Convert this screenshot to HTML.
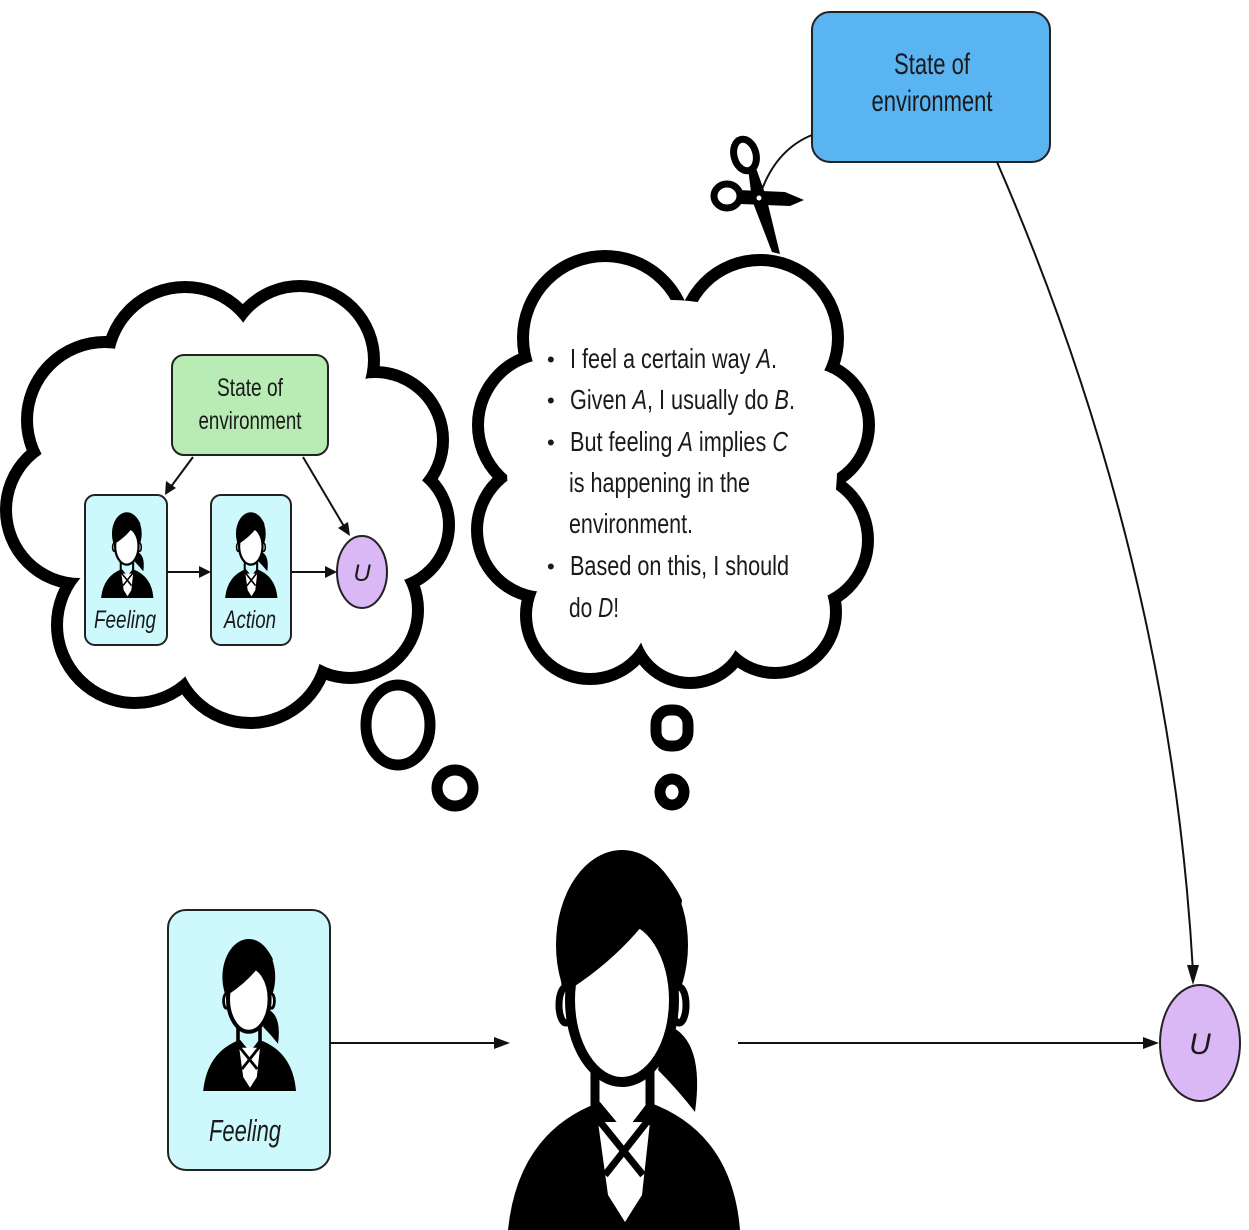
<!DOCTYPE html>
<html><head><meta charset="utf-8"><style>
html,body{margin:0;padding:0;background:#fff;width:1249px;height:1230px;overflow:hidden}
svg{display:block}
text{font-family:"Liberation Sans",Arial,sans-serif;fill:#1a1a1a}
</style></head><body>
<svg width="1249" height="1230" viewBox="0 0 1249 1230" xmlns="http://www.w3.org/2000/svg">
<defs>
<symbol id="p" viewBox="0 0 250 390" overflow="visible">
  <path d="M8 390 Q18 292 100 262 L125 292 L148 262 Q232 292 240 390 Z" fill="#000"/>
  <path d="M98 282 L150 282 L142 355 L125 382 L108 355 Z" fill="#fff"/>
  <path d="M97 278 L143 335 M150 278 L105 335" stroke="#000" stroke-width="7"/>
  <path d="M95 225 L95 285 M150 225 L150 285" stroke="#000" stroke-width="9"/>
  <path d="M168 185 Q205 200 195 272 Q178 250 158 230 Z" fill="#000"/>
  <ellipse cx="122" cy="105" rx="66" ry="95" fill="#000"/>
  <ellipse cx="66" cy="165" rx="7" ry="18" fill="#fff" stroke="#000" stroke-width="7"/>
  <ellipse cx="179" cy="165" rx="7" ry="18" fill="#fff" stroke="#000" stroke-width="7"/>
  <ellipse cx="122" cy="160" rx="52" ry="82" fill="#fff" stroke="#000" stroke-width="10"/>
  <path d="M62 150 L72 148 Q118 118 150 76 L176 110 L182 60 Q160 14 122 12 Q62 20 58 110 Z" fill="#000"/>
</symbol>
</defs>

<!-- left cloud -->
<g stroke="#000" stroke-width="24" fill="#000">
  <circle cx="185" cy="365" r="72"/><circle cx="300" cy="360" r="68"/>
  <circle cx="105" cy="420" r="72"/><circle cx="375" cy="440" r="62"/>
  <circle cx="80" cy="510" r="68"/><circle cx="385" cy="525" r="58"/>
  <circle cx="135" cy="625" r="72"/><circle cx="250" cy="645" r="72"/><circle cx="350" cy="610" r="62"/>
</g>
<g fill="#fff">
  <circle cx="185" cy="365" r="72"/><circle cx="300" cy="360" r="68"/>
  <circle cx="105" cy="420" r="72"/><circle cx="375" cy="440" r="62"/>
  <circle cx="80" cy="510" r="68"/><circle cx="385" cy="525" r="58"/>
  <circle cx="135" cy="625" r="72"/><circle cx="250" cy="645" r="72"/><circle cx="350" cy="610" r="62"/>
  <ellipse cx="235" cy="500" rx="170" ry="160"/>
</g>
<!-- right cloud -->
<g stroke="#000" stroke-width="24" fill="#000">
  <circle cx="605" cy="338" r="76"/><circle cx="760" cy="338" r="72"/>
  <circle cx="550" cy="425" r="66"/><circle cx="805" cy="425" r="58"/>
  <circle cx="545" cy="530" r="62"/><circle cx="800" cy="540" r="62"/>
  <circle cx="590" cy="615" r="58"/><circle cx="690" cy="625" r="52"/><circle cx="775" cy="612" r="55"/>
</g>
<g fill="#fff">
  <circle cx="605" cy="338" r="76"/><circle cx="760" cy="338" r="72"/>
  <circle cx="550" cy="425" r="66"/><circle cx="805" cy="425" r="58"/>
  <circle cx="545" cy="530" r="62"/><circle cx="800" cy="540" r="62"/>
  <circle cx="590" cy="615" r="58"/><circle cx="690" cy="625" r="52"/><circle cx="775" cy="612" r="55"/>
  <ellipse cx="672" cy="470" rx="165" ry="170"/>
</g>
<!-- small bubbles -->
<g fill="none" stroke="#000" stroke-width="11">
  <ellipse cx="398" cy="725" rx="32" ry="40"/>
  <circle cx="455" cy="788" r="18"/>
  <rect x="656" y="710" width="32" height="36" rx="14"/>
  <ellipse cx="672" cy="792" rx="12" ry="13"/>
</g>

<!-- left cloud content -->
<rect x="172" y="355" width="156" height="100" rx="12" fill="#b9ecb4" stroke="#222" stroke-width="2"/>
<text x="250" y="396" font-size="25" text-anchor="middle" textLength="66" lengthAdjust="spacingAndGlyphs">State of</text>
<text x="250" y="429" font-size="25" text-anchor="middle" textLength="103" lengthAdjust="spacingAndGlyphs">environment</text>
<rect x="85" y="495" width="82" height="150" rx="10" fill="#cdf9fd" stroke="#222" stroke-width="2"/>
<rect x="211" y="495" width="80" height="150" rx="10" fill="#cdf9fd" stroke="#222" stroke-width="2"/>
<use href="#p" x="99" y="510" width="57" height="88"/>
<use href="#p" x="223" y="510" width="57" height="88"/>
<text x="125" y="628" font-size="25" font-style="italic" text-anchor="middle" textLength="62" lengthAdjust="spacingAndGlyphs">Feeling</text>
<text x="250" y="628" font-size="25" font-style="italic" text-anchor="middle" textLength="52" lengthAdjust="spacingAndGlyphs">Action</text>
<ellipse cx="362" cy="572" rx="25" ry="36" fill="#dab8f6" stroke="#222" stroke-width="2"/>
<text x="362" y="581" font-size="24" font-style="italic" text-anchor="middle">U</text>
<g stroke="#111" stroke-width="2" fill="none">
  <line x1="193" y1="457" x2="170" y2="488"/>
  <line x1="303" y1="457" x2="345" y2="528"/>
  <line x1="167" y1="572" x2="202" y2="572"/>
  <line x1="291" y1="572" x2="328" y2="572"/>
</g>
<g fill="#111">
  <polygon points="165,495 166,481 176,488"/>
  <polygon points="350,536 338,528 348,522"/>
  <polygon points="211,572 199,566 199,578"/>
  <polygon points="337,572 325,566 325,578"/>
</g>

<!-- right cloud text -->
<g font-size="28">
  <text x="547" y="367" font-size="22">•</text><text x="570" y="368" textLength="207" lengthAdjust="spacingAndGlyphs">I feel a certain way <tspan font-style="italic">A</tspan>.</text>
  <text x="547" y="408" font-size="22">•</text><text x="570" y="409" textLength="225" lengthAdjust="spacingAndGlyphs">Given <tspan font-style="italic">A</tspan>, I usually do <tspan font-style="italic">B</tspan>.</text>
  <text x="547" y="450" font-size="22">•</text><text x="570" y="451" textLength="218" lengthAdjust="spacingAndGlyphs">But feeling <tspan font-style="italic">A</tspan> implies <tspan font-style="italic">C</tspan></text>
  <text x="569" y="492" textLength="181" lengthAdjust="spacingAndGlyphs">is happening in the</text>
  <text x="569" y="533" textLength="124" lengthAdjust="spacingAndGlyphs">environment.</text>
  <text x="547" y="574" font-size="22">•</text><text x="570" y="575" textLength="219" lengthAdjust="spacingAndGlyphs">Based on this, I should</text>
  <text x="569" y="617" textLength="50" lengthAdjust="spacingAndGlyphs">do <tspan font-style="italic">D</tspan>!</text>
</g>

<!-- top box -->
<rect x="812" y="12" width="238" height="150" rx="18" fill="#5ab4f2" stroke="#222" stroke-width="2"/>
<text x="932" y="74" font-size="30" text-anchor="middle" textLength="76" lengthAdjust="spacingAndGlyphs">State of</text>
<text x="932" y="111" font-size="30" text-anchor="middle" textLength="121" lengthAdjust="spacingAndGlyphs">environment</text>
<path d="M812 135 Q775 150 760 195" stroke="#111" stroke-width="2" fill="none"/>
<path d="M997 162 Q1170 560 1193 972" stroke="#111" stroke-width="2" fill="none"/>
<polygon points="1193,985 1187,965 1199,965" fill="#111"/>

<!-- scissors -->
<g>
  <ellipse cx="745" cy="155" rx="11" ry="16" fill="none" stroke="#000" stroke-width="7" transform="rotate(-15 745 155)"/>
  <ellipse cx="727" cy="196" rx="13" ry="12" fill="none" stroke="#000" stroke-width="7"/>
  <path d="M748 168 L756 168 L766 196 L780 254 L772 252 L752 200 Z" fill="#000"/>
  <path d="M738 190 L785 192 L804 200 L790 206 L740 204 Z" fill="#000"/>
  <circle cx="759" cy="198" r="2.5" fill="#fff"/>
</g>

<!-- bottom -->
<rect x="168" y="910" width="162" height="260" rx="18" fill="#cdf9fd" stroke="#222" stroke-width="2"/>
<use href="#p" x="200" y="935" width="100" height="156"/>
<text x="245" y="1141" font-size="31" font-style="italic" text-anchor="middle" textLength="72" lengthAdjust="spacingAndGlyphs">Feeling</text>
<use href="#p" x="500" y="840" width="250" height="390"/>
<line x1="330" y1="1043" x2="496" y2="1043" stroke="#111" stroke-width="2"/>
<polygon points="510,1043 494,1037 494,1049" fill="#111"/>
<line x1="738" y1="1043" x2="1145" y2="1043" stroke="#111" stroke-width="2"/>
<polygon points="1159,1043 1143,1037 1143,1049" fill="#111"/>
<ellipse cx="1200" cy="1043" rx="40" ry="58" fill="#dab8f6" stroke="#222" stroke-width="2"/>
<text x="1200" y="1054" font-size="30" font-style="italic" text-anchor="middle">U</text>
</svg>
</body></html>
